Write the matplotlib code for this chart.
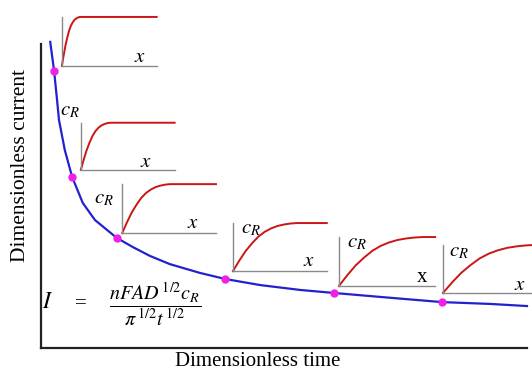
import matplotlib.pyplot as plt

plt.rcParams['font.family'] = ['Liberation Serif', 'DejaVu Serif']
plt.rcParams['mathtext.fontset'] = 'stix'

# Current decay curve (dimensionless time, dimensionless current)
time = [0.19, 0.27, 0.33, 0.37, 0.49, 0.64, 0.86, 1.11, 1.56, 1.89, 2.24,
        2.65, 3.27, 3.79, 4.51, 5.33, 6.03, 6.98, 8.25, 9.24, 10.0]
current = [10.07, 9.11, 8.16, 7.50, 6.51, 5.63, 4.77, 4.21, 3.62, 3.32, 3.03,
           2.76, 2.47, 2.27, 2.07, 1.91, 1.81, 1.68, 1.51, 1.45, 1.38]
# indices of the sampled instants shown as dots
dot_idx = [1, 5, 8, 13, 16, 18]

# Concentration profile shape, x scaled by diffusion layer thickness
profile_u = [0, 0.1, 0.2, 0.3, 0.4, 0.5, 0.6, 0.7, 0.8, 0.9, 1.0]
profile_c = [0, 0.22, 0.42, 0.58, 0.72, 0.82, 0.89, 0.94, 0.97, 0.99, 1.0]
# diffusion layer thickness at each dot (fraction of inset width)
delta = [0.19, 0.31, 0.51, 0.68, 0.87, 0.97]

W, H = 532, 371


def fx(x):
    return x / W


def fy(y):
    return 1 - y / H


fig = plt.figure(figsize=(W / 100, H / 100), dpi=100)
ax = fig.add_axes([fx(41), fy(348), (527 - 41) / W, (348 - 44) / H])
ax.set_xlim(0, 10)
ax.set_ylim(0, 10)
for s in ['top', 'right']:
    ax.spines[s].set_visible(False)
for s in ['left', 'bottom']:
    ax.spines[s].set_linewidth(1.6)
    ax.spines[s].set_color('#222222')
ax.set_xticks([])
ax.set_yticks([])

ax.plot(time, current, color='#2222cc', lw=1.6, clip_on=False, zorder=3)
ax.plot([time[i] for i in dot_idx], [current[i] for i in dot_idx], 'o',
        color='#f020e8', ms=6, mec='none', clip_on=False, zorder=8)

# inset boxes in data coords: (t0, I0, width, height)
insets = [(0.43, 9.28, 1.95, 1.61), (0.82, 5.86, 1.93, 1.55),
          (1.67, 3.78, 1.93, 1.61), (3.95, 2.53, 1.93, 1.58),
          (6.13, 2.04, 1.98, 1.61), (8.27, 1.81, 1.95, 1.58)]
for box, d in zip(insets, delta):
    ins = ax.inset_axes(list(box), transform=ax.transData)
    ins.set_xlim(0, 1)
    ins.set_ylim(0, 1)
    ins.patch.set_alpha(0)
    for s in ['top', 'right']:
        ins.spines[s].set_visible(False)
    for s in ['left', 'bottom']:
        ins.spines[s].set_color('#8a8a8a')
        ins.spines[s].set_linewidth(1.0)
    ins.set_xticks([])
    ins.set_yticks([])
    xs = [u * d for u in profile_u] + [1.0]
    ys = profile_c + [1.0]
    ins.plot(xs, ys, color='#cc1515', lw=1.4, clip_on=False)

# axis labels on the little profiles
cr_pos = [(70, 111), (104, 199), (251, 229), (357, 243), (459, 252)]
for x, y in cr_pos:
    fig.text(fx(x), fy(y), r'$c_R$', fontsize=15, ha='center', va='center')
x_pos = [(140, 58), (146, 162), (193, 224), (309, 262), (520, 286)]
for x, y in x_pos:
    fig.text(fx(x), fy(y), r'$x$', fontsize=15, ha='center', va='center')
fig.text(fx(422), fy(277), 'x', fontsize=15, ha='center', va='center')

# Cottrell equation
fig.text(fx(48), fy(302), r'$I$', fontsize=17, ha='center', va='center')
fig.text(fx(81), fy(304), '=', fontsize=15, ha='center', va='center')
fig.text(fx(155), fy(304),
         r'$\dfrac{nFAD^{\,1/2}c_R}{\pi^{\,1/2}t^{\,1/2}}$',
         fontsize=14.5, ha='center', va='center')

fig.text(fx(258), fy(362), 'Dimensionless time', fontsize=15,
         ha='center', va='center')
fig.text(fx(21), fy(165), 'Dimensionless current', fontsize=15.5,
         ha='center', va='center', rotation=90)

fig.savefig('out.png', dpi=100)
